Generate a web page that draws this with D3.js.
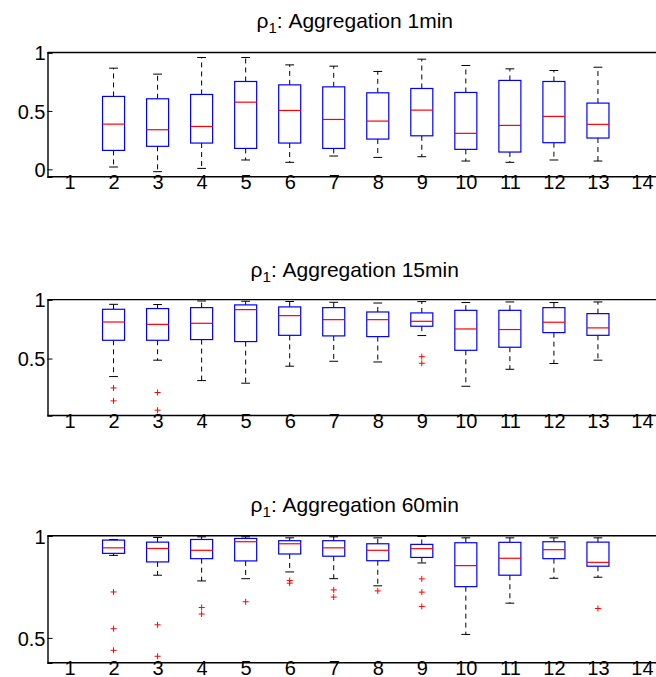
<!DOCTYPE html>
<html>
<head>
<meta charset="utf-8">
<script src="https://cdn.jsdelivr.net/npm/d3@7"></script>
<style>
  body { margin: 0; background: #fff; }
  svg { display: block; }
  text { font-family: "Liberation Sans", Arial, Helvetica, sans-serif; fill: #000; }
</style>
</head>
<body>
<svg id="chart" width="656" height="677"></svg>
<script>
// Category positions on the x axis and the subset that carries a box
const categories = d3.range(1, 15);
const boxCats = d3.range(2, 14);

// Aggregation 1min: upper whisker, Q3, median, Q1, lower whisker (categories 2..13)
const hi1  = [0.866, 0.815, 0.957, 0.957, 0.894, 0.883, 0.838, 0.943, 0.889, 0.860, 0.846, 0.874];
const q3_1 = [0.624, 0.604, 0.641, 0.752, 0.723, 0.706, 0.655, 0.692, 0.658, 0.761, 0.752, 0.567];
const med1 = [0.387, 0.339, 0.367, 0.575, 0.504, 0.427, 0.413, 0.507, 0.308, 0.376, 0.453, 0.385];
const q1_1 = [0.162, 0.197, 0.225, 0.179, 0.225, 0.179, 0.259, 0.287, 0.171, 0.148, 0.228, 0.268];
const lo1  = [0.020, -0.020, 0.008, 0.080, 0.060, 0.114, 0.102, 0.108, 0.071, 0.060, 0.080, 0.071];
const out1 = [];

// Aggregation 15min
const hi2  = [0.960, 0.958, 0.988, 0.986, 0.984, 0.977, 0.971, 0.983, 0.975, 0.980, 0.975, 0.980];
const q3_2 = [0.918, 0.924, 0.932, 0.955, 0.938, 0.932, 0.895, 0.887, 0.909, 0.909, 0.932, 0.881];
const med2 = [0.810, 0.790, 0.799, 0.915, 0.864, 0.830, 0.830, 0.816, 0.751, 0.746, 0.808, 0.760];
const q1_2 = [0.655, 0.655, 0.661, 0.644, 0.697, 0.692, 0.686, 0.774, 0.570, 0.596, 0.720, 0.697];
const lo2  = [0.347, 0.486, 0.313, 0.291, 0.435, 0.477, 0.471, 0.695, 0.265, 0.409, 0.458, 0.486];
const out2 = [[2, 0.251], [2, 0.141], [3, 0.212], [3, 0.062], [9, 0.516], [9, 0.460]];

// Aggregation 60min
const hi3  = [0.982, 0.992, 0.995, 0.995, 0.990, 0.995, 0.990, 0.997, 0.990, 0.990, 0.990, 0.990];
const q3_3 = [0.979, 0.969, 0.982, 0.987, 0.976, 0.976, 0.961, 0.958, 0.966, 0.968, 0.971, 0.969];
const med3 = [0.941, 0.938, 0.929, 0.971, 0.961, 0.941, 0.929, 0.937, 0.854, 0.890, 0.932, 0.870];
const q1_3 = [0.914, 0.872, 0.888, 0.877, 0.911, 0.900, 0.878, 0.894, 0.751, 0.807, 0.888, 0.851];
const lo3  = [0.904, 0.807, 0.779, 0.790, 0.823, 0.790, 0.755, 0.867, 0.517, 0.670, 0.792, 0.797];
const out3 = [[2, 0.725], [2, 0.545], [2, 0.439], [3, 0.564], [3, 0.410],
              [4, 0.649], [4, 0.617], [5, 0.677], [6, 0.781], [6, 0.768],
              [7, 0.735], [7, 0.700], [8, 0.730], [9, 0.789], [9, 0.724],
              [9, 0.654], [13, 0.644]];

const titles = ["Aggregation 1min", "Aggregation 15min", "Aggregation 60min"];
const yTicks = [[0, 0.5, 1], [0.5, 1], [0.5, 1]];

const panels = [
  { title: titles[0], hi: hi1, q3: q3_1, med: med1, q1: q1_1, lo: lo1, out: out1,
    yDomain: [-0.063, 1], top: 52.5, bottom: 176.7, titleY: 28, ticks: yTicks[0] },
  { title: titles[1], hi: hi2, q3: q3_2, med: med2, q1: q1_2, lo: lo2, out: out2,
    yDomain: [0.017, 1], top: 299.6, bottom: 415.5, titleY: 277, ticks: yTicks[1] },
  { title: titles[2], hi: hi3, q3: q3_3, med: med3, q1: q1_3, lo: lo3, out: out3,
    yDomain: [0.378, 1], top: 535.8, bottom: 662.8, titleY: 512, ticks: yTicks[2] }
];

const svg = d3.select("#chart");
const left = 47.5, right = 664;
const x = d3.scaleLinear().domain([0.5, 14.5]).range([left, right]);
const boxHalf = 0.25;   // half box width in category units
const capHalf = 0.1;    // half whisker-cap width
const fontSize = 20;
const fontFamily = '"Liberation Sans", Arial, sans-serif';

panels.forEach(p => {
  const y = d3.scaleLinear().domain(p.yDomain).range([p.bottom, p.top]);
  const g = svg.append("g");

  // title with subscript
  const t = g.append("text")
    .attr("x", (left + right) / 2 - 1)
    .attr("y", p.titleY)
    .attr("text-anchor", "middle")
    .attr("font-size", 21);
  t.append("tspan").text("ρ");
  t.append("tspan").attr("font-size", 15).attr("dy", 5).text("1");
  t.append("tspan").attr("dy", -5).text(": " + p.title);

  // axes frame (top and bottom edges, left spine)
  g.append("line").attr("x1", left).attr("x2", 656).attr("y1", p.top).attr("y2", p.top)
    .attr("stroke", "#000").attr("stroke-width", 1.4);
  g.append("line").attr("x1", left).attr("x2", 656).attr("y1", p.bottom).attr("y2", p.bottom)
    .attr("stroke", "#000").attr("stroke-width", 1.4);

  // y axis: inward ticks
  const yAxis = d3.axisLeft(y).tickValues(p.ticks).tickSize(-5).tickPadding(3)
    .tickFormat(d3.format("~g"));
  const ya = g.append("g").attr("transform", `translate(${left},0)`).call(yAxis);
  ya.select(".domain").attr("stroke", "#000").attr("stroke-width", 1.4);
  ya.selectAll(".tick line").attr("stroke", "#000");
  ya.selectAll(".tick text").attr("font-size", fontSize).attr("x", -2).attr("dy", "0.36em")
    .style("font-family", fontFamily);

  // x axis labels
  const xAxis = d3.axisBottom(x).tickValues(categories).tickSize(0).tickPadding(0)
    .tickFormat(d3.format("d"));
  const xa = g.append("g").attr("transform", `translate(0,${p.bottom})`).call(xAxis);
  xa.select(".domain").remove();
  xa.selectAll(".tick text").attr("font-size", fontSize).attr("dy", null)
    .attr("y", 12.5).attr("dominant-baseline", "alphabetic")
    .style("font-family", fontFamily);

  const rows = boxCats.map((c, i) => ({
    c, hi: p.hi[i], q3: p.q3[i], med: p.med[i], q1: p.q1[i], lo: p.lo[i]
  }));

  const b = g.append("g").selectAll("g").data(rows).join("g");

  // whiskers (dashed)
  b.append("line")
    .attr("x1", d => x(d.c)).attr("x2", d => x(d.c))
    .attr("y1", d => y(d.q3)).attr("y2", d => y(d.hi))
    .attr("stroke", "#000").attr("stroke-width", 1).attr("stroke-dasharray", "5,4");
  b.append("line")
    .attr("x1", d => x(d.c)).attr("x2", d => x(d.c))
    .attr("y1", d => y(d.q1)).attr("y2", d => y(d.lo))
    .attr("stroke", "#000").attr("stroke-width", 1).attr("stroke-dasharray", "5,4");
  // whisker caps
  ["hi", "lo"].forEach(k => {
    b.append("line")
      .attr("x1", d => x(d.c - capHalf)).attr("x2", d => x(d.c + capHalf))
      .attr("y1", d => y(d[k])).attr("y2", d => y(d[k]))
      .attr("stroke", "#000").attr("stroke-width", 1);
  });
  // boxes
  b.append("rect")
    .attr("x", d => x(d.c - boxHalf))
    .attr("width", d => x(d.c + boxHalf) - x(d.c - boxHalf))
    .attr("y", d => y(d.q3))
    .attr("height", d => y(d.q1) - y(d.q3))
    .attr("fill", "none").attr("stroke", "#0000ff").attr("stroke-width", 1.2);
  // medians
  b.append("line")
    .attr("x1", d => x(d.c - boxHalf)).attr("x2", d => x(d.c + boxHalf))
    .attr("y1", d => y(d.med)).attr("y2", d => y(d.med))
    .attr("stroke", "#ff0000").attr("stroke-width", 1.2);

  // outliers as '+'
  const o = g.append("g").selectAll("g").data(p.out).join("g")
    .attr("transform", d => `translate(${x(d[0])},${y(d[1])})`);
  o.append("line").attr("x1", -3).attr("x2", 3).attr("stroke", "#ff0000").attr("stroke-width", 1);
  o.append("line").attr("y1", -3).attr("y2", 3).attr("stroke", "#ff0000").attr("stroke-width", 1);
});
</script>
</body>
</html>
